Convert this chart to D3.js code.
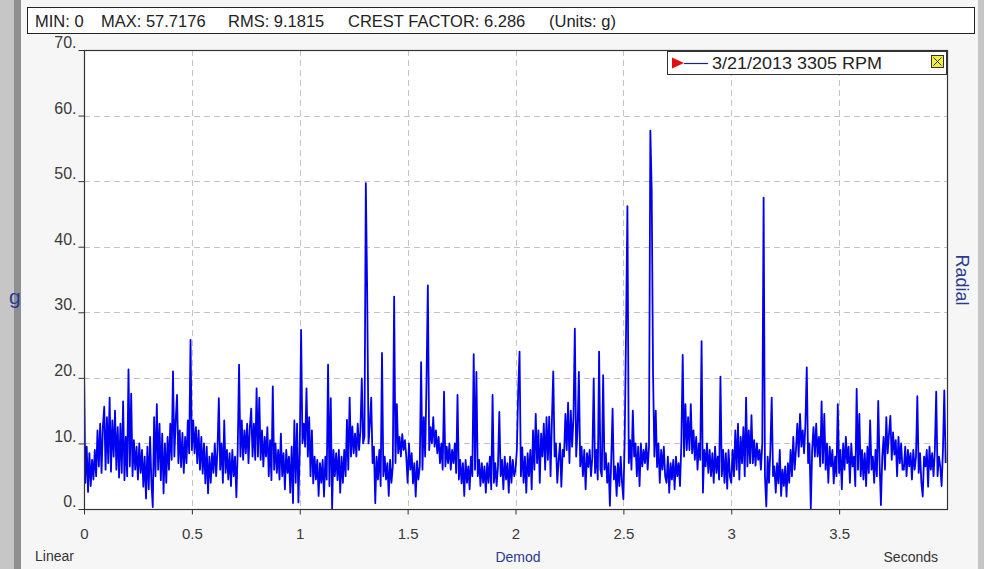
<!DOCTYPE html>
<html>
<head>
<meta charset="utf-8">
<script src="https://cdn.jsdelivr.net/npm/d3@7"></script>
<style>
  html, body { margin: 0; padding: 0; background: #c4c4c4; }
  svg { display: block; }
  text { font-family: "Liberation Sans", Arial, sans-serif; }
</style>
</head>
<body>
<svg id="chart" width="984" height="569"></svg>
<script>
// Demodulated acceleration time waveform, radial direction (g), sampled every 6.25 ms.
const sampleStep = 0.00625;
const waveform = [
  22,4,9.5,2.6,8.5,3.5,7.5,4.5,9,5,12,6.5,13,5.5,12.5,15.6,
  6,14,7,17,5.7,13.5,8,15,6,12.5,4.8,13,5.5,16.4,4.4,11,
  5,21.3,6.5,17.6,5,10.5,6,9.5,4.5,10,5.5,9,3.4,8,1.6,9.5,
  3,11,4,0.3,14,5,16,6,13,4.4,11.5,2.4,10,4,11,6,
  13,7.5,21,8,13.5,17.4,7,12,6.4,11.6,5.5,11,7,13.5,8.5,25.8,
  9,13.5,8.5,12.5,7,12,6,11,5.4,10,3.9,9.5,2.4,8,4,8.5,
  5.5,10,5,9,16.9,6,10,4,13.5,5.5,9,4.5,8.5,3.5,9,5,
  8,1.8,9,22,8,13.5,7.5,12,8.5,13,7,12.5,15.3,8,13,7.5,
  18.4,8,17,7.5,12,6.5,11,8,12.5,5,10.5,4.4,18.7,6,10,5.5,
  9,4.5,11.5,5,8.5,3,9,5.5,8,2.5,9.5,0.9,13.5,4,13,1,
  9,27.3,10,13,9.5,18.4,8,14,5,12,3.9,8,4.5,7.5,2,7,
  4,7.5,1.9,8,4.5,22,3.5,16.9,0,9,5,8.5,4.4,9,2.5,8,
  4,9,5,13.6,6,17,8,12.6,8.5,11.5,8,13,9,12,19.9,10,
  11,49.7,33.1,10,13,17,7,9.5,0.9,8,4.5,9,3.5,23.8,5,8,
  4.5,7,2,7.5,4,6.5,32.4,7,16,8.5,11,8,11.4,9,10.5,8,
  4,10,6,8.5,3.9,7,1.9,7.3,4.5,6.5,22.4,6,14,8,19.4,34.1,
  9,12.5,10,14,9.5,12,8.5,11,7,10,6,17.9,6.5,9.5,7,10,
  6,9,7,10,5.5,17.4,4.5,7.5,3.9,7,2,7.5,4,6.5,3,8,
  5,23.6,6,20.9,5,7.5,3.5,7,4,6.5,2.5,7,4,8,3,17.4,
  4,7,3.5,6.5,14.8,5,7.5,3,8,4.5,7,2.5,8,4,7.5,5,
  6,9,18,24,5,9.4,4,8,2.5,8.5,5,9,3,12,6,14.5,
  7,12,4,11.5,8,13,6,14,7.5,14.1,5,13.5,21,8,10,4,
  7.5,10,3.4,9,8,14.5,9,16.2,7,15,9.5,14,27.5,8,12,20.9,
  6.5,9.5,5,9,3,8.5,6.4,9,5,8,19.9,5.5,9,4.5,24,6,
  5,20.4,6,8.5,4,7,0.5,7.5,15.3,4.5,6.5,2,7,3.5,8,4,
  1.5,11,27.4,46.2,7,10.5,6,15,8,10,5,9.5,3.5,10,6.5,9,
  7,10,6,9.5,57.7176,48.6,20.7,8,15,6.4,10,4,9,6,9.5,5,
  4,8,2.5,7,4.5,7.5,3,8,5,7,3.5,10,23.5,8,16,9,
  14,9,16,8.5,12,7.5,11,6,10,7.5,25.6,2.5,9,6.5,10,5.5,
  9,5,8.5,4,9.5,5.5,8,4.5,20.2,5,9,4,8.5,3.1,9,5,
  4,9,5,12,6,13,4.5,11,7,12.5,5,17,6.5,12,7,14.3,
  7,10.5,6.6,10,7.5,9,6,10,47.5,5,0.4,8,4,9,17,5,
  6.5,2.5,7,3.9,9,2,6,3.5,6.5,1.9,7,4,9,5,11,6,
  9,13,8,14.5,9.5,12,8.5,13,21.6,7,10,0.1,9,12.5,8,13,
  8,11,6.5,16.4,7,14.5,6,10,4,9.5,6.5,9,3.9,8,5,16,
  5.5,9,3,10,6,11,7,9.5,4,10,6.5,8,3.5,18.3,6,14.5,
  5,9,4.5,8.5,3.5,9.5,5.5,13.5,6,8,4,9,5,16.5,7,0.6,
  8,11,6,14,8.5,11.5,14.2,7.5,11.7,8.3,10.5,5,11,7,10,6,
  6,9.5,5,9,6.5,8.5,4.5,9,6,8,17.2,5.5,8.5,4,1.9,8,
  6.5,9,3.4,9.5,6,8.5,5,9,17.9,5,8,6.5,3.5,9,18.1,7
];

const yTicks = [0, 10, 20, 30, 40, 50, 60, 70];
const xTicks = [0, 0.5, 1, 1.5, 2, 2.5, 3, 3.5];
const summaryItems = ["MIN: 0", "MAX: 57.7176", "RMS: 9.1815", "CREST FACTOR: 6.286", "(Units: g)"];
const summaryX = [35, 101, 228, 348, 549];
const legendLabel = "3/21/2013 3305 RPM";

const svg = d3.select("#chart");
const plot = { left: 84, right: 947, top: 50, bottom: 509 };

const x = d3.scaleLinear().domain([0, 4]).range([plot.left, plot.right]);
const y = d3.scaleLinear().domain([0, 70]).range([plot.bottom, plot.top]);

// panel background
svg.append("rect").attr("x", 0).attr("y", 0).attr("width", 984).attr("height", 569).attr("fill", "#c6c6c6");
svg.append("rect").attr("x", 14).attr("y", 0).attr("width", 7).attr("height", 569).attr("fill", "#8f8f8f");
svg.append("rect").attr("x", 21).attr("y", 0).attr("width", 957).attr("height", 569).attr("fill", "#f6f6f6");

// summary box
svg.append("rect").attr("x", 27.5).attr("y", 7.5).attr("width", 947).attr("height", 26)
  .attr("fill", "#ffffff").attr("stroke", "#222").attr("stroke-width", 1);
svg.append("g").selectAll("text").data(summaryItems).join("text")
  .attr("x", (d, i) => summaryX[i]).attr("y", 26.5).attr("font-size", 16.5).attr("fill", "#222")
  .text(d => d);

// plot area
svg.append("rect").attr("x", plot.left).attr("y", plot.top)
  .attr("width", plot.right - plot.left).attr("height", plot.bottom - plot.top).attr("fill", "#ffffff");

// grid
const grid = svg.append("g").attr("stroke", "#c4c4c4").attr("stroke-dasharray", "6,4").attr("stroke-width", 1);
grid.selectAll("line.h").data(yTicks.filter(d => d > 0 && d < 70)).join("line")
  .attr("x1", plot.left).attr("x2", plot.right)
  .attr("y1", d => Math.round(y(d)) + 0.5).attr("y2", d => Math.round(y(d)) + 0.5);
grid.selectAll("line.v").data(xTicks.filter(d => d > 0)).join("line")
  .attr("y1", plot.top).attr("y2", plot.bottom)
  .attr("x1", d => Math.round(x(d)) + 0.5).attr("x2", d => Math.round(x(d)) + 0.5);

// waveform
svg.append("clipPath").attr("id", "clip").append("rect")
  .attr("x", plot.left).attr("y", plot.top).attr("width", plot.right - plot.left).attr("height", plot.bottom - plot.top);
const line = d3.line().x((d, i) => x(i * sampleStep)).y(d => y(d));
svg.append("path").datum(waveform).attr("clip-path", "url(#clip)")
  .attr("d", line).attr("fill", "none").attr("stroke", "#0000f0").attr("stroke-width", 1.8)
  .attr("stroke-linejoin", "round");

// frame
svg.append("rect").attr("x", plot.left + 0.5).attr("y", plot.top + 0.5)
  .attr("width", plot.right - plot.left).attr("height", plot.bottom - plot.top)
  .attr("fill", "none").attr("stroke", "#333").attr("stroke-width", 1.2);

// axes
const yAxis = d3.axisLeft(y).tickValues(yTicks).tickSize(6).tickFormat(d => d + ".");
const gy = svg.append("g").attr("transform", `translate(${plot.left + 0.5},0)`).call(yAxis);
gy.select(".domain").remove();
gy.selectAll(".tick line").attr("stroke", "#333");
gy.selectAll(".tick text").attr("font-size", 16).attr("fill", "#3a3a3a")
  .attr("font-family", "'Liberation Sans', Arial, sans-serif").attr("x", -8).attr("dy", "-0.15em");

const xAxis = d3.axisBottom(x).tickValues(xTicks).tickSize(5).tickFormat(d3.format("~g"));
const gx = svg.append("g").attr("transform", `translate(0,${plot.bottom + 0.5})`).call(xAxis);
gx.select(".domain").remove();
gx.selectAll(".tick line").attr("stroke", "#333");
gx.selectAll(".tick text").attr("font-size", 15).attr("fill", "#3a3a3a")
  .attr("font-family", "'Liberation Sans', Arial, sans-serif").attr("y", 19);

// axis captions
svg.append("text").attr("x", 35).attr("y", 561).attr("font-size", 14).attr("fill", "#333").text("Linear");
svg.append("text").attr("x", 518).attr("y", 562).attr("text-anchor", "middle").attr("font-size", 14)
  .attr("fill", "#2b3a92").text("Demod");
svg.append("text").attr("x", 938).attr("y", 562).attr("text-anchor", "end").attr("font-size", 14)
  .attr("fill", "#333").text("Seconds");
svg.append("text").attr("x", 9).attr("y", 304).attr("font-size", 21).attr("fill", "#2b3a92").text("g");
svg.append("text").attr("transform", "translate(956,280) rotate(90)").attr("text-anchor", "middle")
  .attr("font-size", 18).attr("fill", "#2b3a92").text("Radial");

// legend
const lg = svg.append("g");
lg.append("rect").attr("x", 667.5).attr("y", 51.5).attr("width", 279).attr("height", 23)
  .attr("fill", "#ffffff").attr("stroke", "#333").attr("stroke-width", 1);
lg.append("path").attr("d", "M672,57.5 L684,63 L672,68.5 Z").attr("fill", "#e01010");
lg.append("line").attr("x1", 684).attr("x2", 708).attr("y1", 63.5).attr("y2", 63.5).attr("stroke", "#1a237e").attr("stroke-width", 1.2);
lg.append("text").attr("x", 712).attr("y", 69).attr("font-size", 16.5).attr("fill", "#222")
  .attr("textLength", 170).attr("lengthAdjust", "spacingAndGlyphs").text(legendLabel);
lg.append("rect").attr("x", 931.5).attr("y", 55.5).attr("width", 12).attr("height", 12)
  .attr("fill", "#f2ee3a").attr("stroke", "#333").attr("stroke-width", 1);
lg.append("path").attr("d", "M933.5,57.5 L941.5,65.5 M941.5,57.5 L933.5,65.5").attr("stroke", "#333").attr("stroke-width", 1);
</script>
</body>
</html>
